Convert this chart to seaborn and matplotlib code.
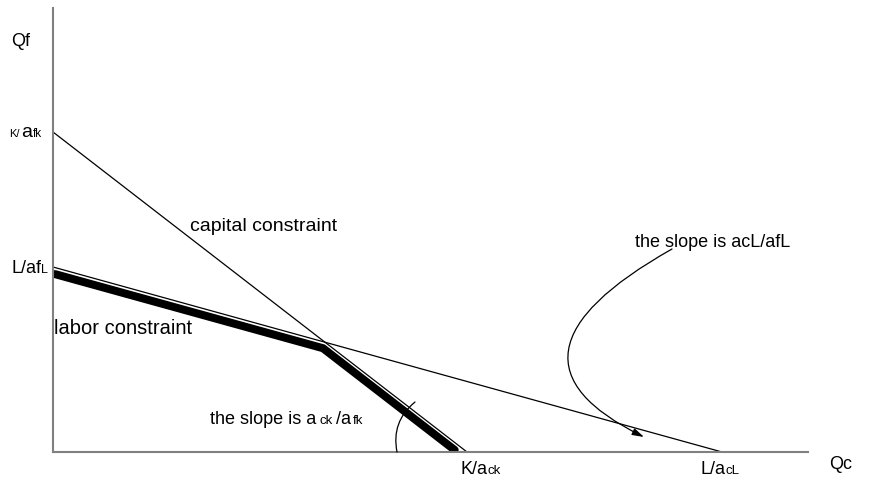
import numpy as np
import pandas as pd
import matplotlib
matplotlib.use("Agg")
import matplotlib.pyplot as plt
import matplotlib.transforms as mtransforms
from matplotlib.path import Path
from matplotlib.patches import FancyArrowPatch
import seaborn as sns

#formatting
sns.set_style("white")
plt.rcParams["font.family"] = ["Liberation Sans", "DejaVu Sans"]

# intercepts of the two resource constraints (Qf axis, Qc axis)
constraint_names = ["capital constraint", "labor constraint"]
qf_intercepts = [3.20, 1.85]   # K/afk , L/afL
qc_intercepts = [4.14, 6.69]   # K/ack , L/acL

# kink of the production possibility frontier
slope_k = qf_intercepts[0] / qc_intercepts[0]
slope_l = qf_intercepts[1] / qc_intercepts[1]
kink_qc = (qf_intercepts[0] - qf_intercepts[1]) / (slope_k - slope_l)

frontier = pd.DataFrame({"Qc": [0.04, kink_qc, 0.975 * qc_intercepts[0]]})
frontier["Qf"] = np.minimum(qf_intercepts[0] - slope_k * frontier["Qc"],
                            qf_intercepts[1] - slope_l * frontier["Qc"])


def piece_text(ax, x, y, pieces, ha="left"):
    # text made of pieces of different size, all on one baseline
    renderer = ax.figure.canvas.get_renderer()
    texts, widths = [], []
    for s, size, gap in pieces:
        t = ax.text(x, y, s, fontsize=size, color="black", va="baseline", ha="left")
        texts.append(t)
        widths.append(gap + t.get_window_extent(renderer).width)
    total = sum(widths)
    start = {"left": 0, "center": -total / 2, "right": -total}[ha]
    pos = start
    for t, w, (s, size, gap) in zip(texts, widths, pieces):
        t.set_transform(ax.transData + mtransforms.Affine2D().translate(pos + gap, 0))
        pos += w


fig = plt.figure(figsize=(8.83, 4.84), dpi=100)
ax = fig.add_axes([53 / 883, 32 / 484, 755 / 883, 444 / 484])

# thin constraint lines
for name, qf, qc in zip(constraint_names, qf_intercepts, qc_intercepts):
    sns.lineplot(x=[0, qc], y=[qf, 0], color="black", linewidth=0.9, ax=ax)

# thick frontier, drawn just under the constraint lines
shift = ax.transData + mtransforms.Affine2D().translate(-2, -6)
ax.plot(frontier["Qc"], frontier["Qf"], color="black", linewidth=5.8,
        solid_capstyle="round", solid_joinstyle="miter", transform=shift, zorder=1)

ax.set_xlim(0, 7.55)
ax.set_ylim(0, 4.44)
ax.set_xticks([])
ax.set_yticks([])
for side in ["top", "right"]:
    ax.spines[side].set_visible(False)
for side in ["left", "bottom"]:
    ax.spines[side].set_color("#808080")
    ax.spines[side].set_linewidth(1.5)

fs = 13
# axis intercept labels
piece_text(ax, -0.11, 3.15, [("K/", 8, 0), ("a", 14, 1), ("fk", 8.5, 1)], ha="right")
piece_text(ax, -0.05, 1.79, [("L/af", fs, 0), ("L", 9, 0)], ha="right")
piece_text(ax, 4.08, -0.22, [("K/a", fs, 0), ("ck", 9.5, 0)])
piece_text(ax, 6.48, -0.22, [("L/a", fs, 0), ("cL", 9.5, 0)])
ax.text(-0.32, 4.06, "Qf", ha="center", va="baseline", fontsize=fs, color="black")
ax.text(7.88, -0.17, "Qc", ha="center", va="baseline", fontsize=fs, color="black")

# line labels
ax.text(1.37, 2.21, constraint_names[0], ha="left", va="baseline", fontsize=14, color="black")
ax.text(0.005, 1.18, constraint_names[1], ha="left", va="baseline", fontsize=14.5, color="black")
ax.text(5.82, 2.05, "the slope is acL/afL", ha="left", va="baseline", fontsize=fs, color="black")
piece_text(ax, 1.57, 0.28, [("the slope is a", fs, 0), ("ck", 9.5, 3),
                            ("/a", fs, 4), ("fk", 9.5, 1)])

# curved arrow pointing at the labor constraint
curve = Path([(6.19, 2.03), (4.27, 0.95), (5.91, 0.15)],
             [Path.MOVETO, Path.CURVE3, Path.CURVE3])
ax.add_patch(FancyArrowPatch(path=curve, arrowstyle="-|>,head_length=0.5,head_width=0.15",
                             mutation_scale=14, color="black", lw=0.9))
# angle mark at K/ack
ax.annotate("", xy=(3.62, 0.50), xytext=(3.44, 0.0),
            arrowprops=dict(arrowstyle="-", connectionstyle="arc3,rad=-0.3",
                            color="black", lw=0.9, shrinkA=0, shrinkB=0))

fig.savefig("out.png", dpi=100)
